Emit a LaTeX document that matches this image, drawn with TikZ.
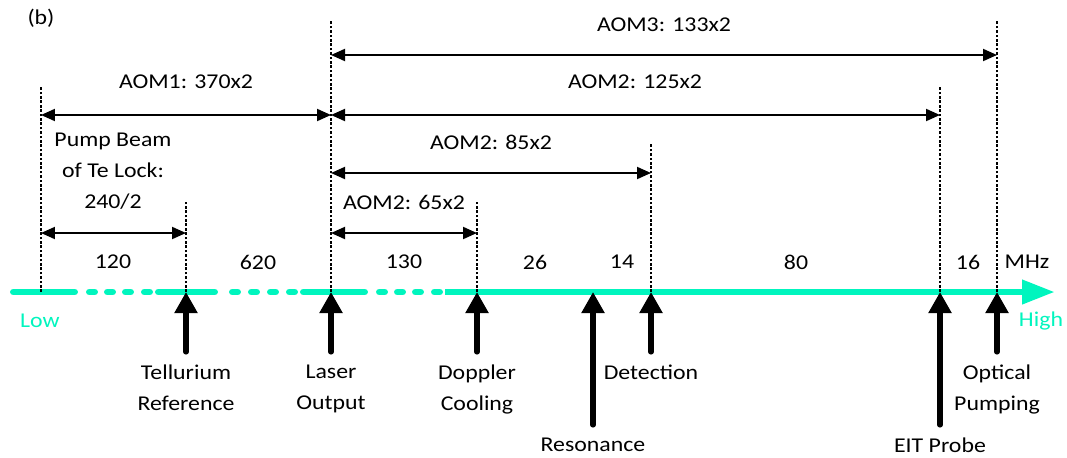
\documentclass[tikz,border=0pt]{standalone}
\usepackage{fontspec}
\setmainfont[FakeStretch=1.13]{Carlito}
\usetikzlibrary{arrows.meta, positioning}
\definecolor{mint}{RGB}{0,245,190}

\begin{document}
\begin{tikzpicture}[x=0.02cm, y=-0.02cm,
                font=\fontsize{12}{17.5}\selectfont,
                guide/.style={black, line width=0.8pt, dash pattern=on 1.5pt off 1pt},
                dim/.style={{Triangle[length=0.28cm,width=0.24cm]}-{Triangle[length=0.28cm,width=0.24cm]},
                            line width=1.1pt},
                uparr/.style={-{Triangle[length=0.42cm,width=0.44cm]}, line width=2.9pt, line cap=round},
                axisline/.style={mint, line width=3.97pt, line cap=round},
                lbl/.style={align=center, inner sep=0pt}
            ]
                \useasboundingbox (0,0) rectangle (1067,457);

                % positions on the frequency axis
                \coordinate (lo) at (41,292);
                \coordinate (te) at (186,292);
                \coordinate (laser) at (331,292);
                \coordinate (dop) at (477,292);
                \coordinate (res) at (593,292);
                \coordinate (det) at (651,292);
                \coordinate (eit) at (940,292);
                \coordinate (opt) at (997,292);

                % axis
                \draw[axisline] (13.5,292) -- (74.5,292);
                \draw[axisline] (158.5,292) -- (214.5,292);
                \draw[axisline] (303.5,292) -- (364.5,292);
                \draw[axisline, line cap=butt, -{Triangle[length=0.66cm,width=0.46cm]}] (445,292) -- (1055,292);
                \foreach \x in {87,105,123,142,230,249,268,287,377,395,413,432}
                    \draw[axisline] (\x+2.5,292) -- (\x+7.5,292);

                % guides
                \draw[guide] (lo) -- (41,87);
                \draw[guide] (te) -- (186,200);
                \draw[guide] (laser) -- (331,20);
                \draw[guide] (dop) -- (477,200);
                \draw[guide] (det) -- (651,143);
                \draw[guide] (eit) -- (940,87);
                \draw[guide] (opt) -- (997,20);

                % AOM shifts
                \node[lbl] (tag) at (41,18) {(b)};
                \node[lbl] (aom3) at (664,25) {AOM3: 133x2};
                \node[lbl] (aom1) at (186,82) {AOM1: 370x2};
                \node[lbl] (aom2a) at (635,82) {AOM2: 125x2};
                \node[lbl] (aom2b) at (491,142) {AOM2: 85x2};
                \node[lbl] (aom2c) at (404,202) {AOM2: 65x2};
                \node[lbl] (pump) at (113,171) {Pump Beam\\of Te Lock:\\240/2};

                \draw[dim] (laser |- 0,55) -- (opt |- 0,55);
                \draw[dim] (lo |- 0,115) -- (laser |- 0,115);
                \draw[dim] (laser |- 0,115) -- (eit |- 0,115);
                \draw[dim] (laser |- 0,173) -- (det |- 0,173);
                \draw[dim] (laser |- 0,233) -- (dop |- 0,233);
                \draw[dim] (lo |- 0,233) -- (te |- 0,233);

                % spacings in MHz
                \foreach \x/\v in {113/120, 258/620, 404/130, 535/26, 622/14, 796/80, 968/16, 1027/MHz}
                    \node[lbl] at (\x,262) {\v};
                \node[lbl, text=mint] (low) at (40,321) {Low};
                \node[lbl, text=mint] (high) at (1041,321) {High};

                % transitions
                \coordinate (te-tail) at (186,352);
                \coordinate (laser-tail) at (331,352);
                \coordinate (dop-tail) at (477,352);
                \coordinate (res-tail) at (593,425);
                \coordinate (det-tail) at (651,352);
                \coordinate (eit-tail) at (940,425);
                \coordinate (opt-tail) at (997,352);

                \foreach \p in {te,laser,dop,res,det,eit,opt}
                    \draw[uparr] (\p-tail) -- (\p);

                \node[lbl, below=0.25cm of te-tail] (tel) {Tellurium\\Reference};
                \node[lbl, below=0.25cm of laser-tail] (out) {Laser\\Output};
                \node[lbl, below=0.25cm of dop-tail] (cool) {Doppler\\Cooling};
                \node[lbl, below=0.25cm of det-tail] (detect) {Detection};
                \node[lbl, below=0.25cm of res-tail] (reson) {Resonance};
                \node[lbl, below=0.25cm of eit-tail] (probe) {EIT Probe};
                \node[lbl, below=0.25cm of opt-tail] (pumping) {Optical\\Pumping};
            \end{tikzpicture}
\end{document}
